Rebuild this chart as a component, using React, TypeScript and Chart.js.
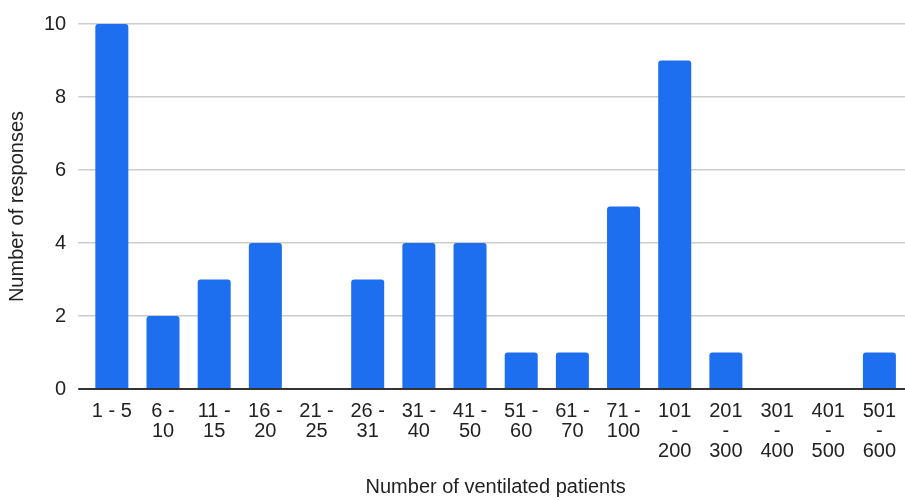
import React, { useEffect, useRef } from "react";
import { Chart, registerables } from "chart.js";

Chart.register(...registerables);

const categories: (string | string[])[] = [
  "1 - 5",
  ["6 -", "10"],
  ["11 -", "15"],
  ["16 -", "20"],
  ["21 -", "25"],
  ["26 -", "31"],
  ["31 -", "40"],
  ["41 -", "50"],
  ["51 -", "60"],
  ["61 -", "70"],
  ["71 -", "100"],
  ["101", "-", "200"],
  ["201", "-", "300"],
  ["301", "-", "400"],
  ["401", "-", "500"],
  ["501", "-", "600"],
];
const responses = [10, 2, 3, 4, 0, 3, 4, 4, 1, 1, 5, 9, 1, 0, 0, 1];
const xTitle = "Number of ventilated patients";
const yTitle = "Number of responses";

export default function App() {
  const ref = useRef<HTMLCanvasElement>(null);
  useEffect(() => {
    const font = { family: "'Liberation Sans', Arial, sans-serif", size: 20 };
    const chart = new Chart(ref.current!, {
      type: "bar",
      data: {
        labels: categories,
        datasets: [
          {
            data: responses,
            backgroundColor: "#1e6ef0",
            barPercentage: 0.645,
            categoryPercentage: 1,
            borderRadius: { topLeft: 3, topRight: 3, bottomLeft: 0, bottomRight: 0 },
            borderSkipped: "bottom",
          },
        ],
      },
      options: {
        animation: false,
        responsive: false,
        maintainAspectRatio: false,
        layout: { padding: { top: 11, right: 0, bottom: 1, left: 3 } },
        plugins: { legend: { display: false }, tooltip: { enabled: false } },
        scales: {
          x: {
            grid: { display: false },
            border: { display: false },
            ticks: {
              color: "#222",
              font: { ...font, lineHeight: 1.0 },
              padding: 4,
              maxRotation: 0,
              autoSkip: false,
            },
            title: {
              display: true,
              text: xTitle,
              color: "#222",
              font,
              padding: { top: 10, bottom: 0 },
            },
          },
          y: {
            min: 0,
            max: 10,
            ticks: { stepSize: 2, color: "#222", font, padding: 12 },
            border: { display: false },
            grid: {
              color: (c: any) => (c.tick && c.tick.value === 0 ? "#333" : "#cccccc"),
              lineWidth: (c: any) => (c.tick && c.tick.value === 0 ? 2 : 1.5),
              tickLength: 8,
            },
            title: {
              display: true,
              text: yTitle,
              color: "#222",
              font,
              padding: { top: 2, bottom: 3 },
            },
          },
        },
      },
    });
    return () => chart.destroy();
  }, []);
  return (
    <div style={{ position: "fixed", left: 0, top: 0, width: 905, height: 500, background: "#fff" }}>
      <canvas ref={ref} width={905} height={500} style={{ display: "block" }} />
    </div>
  );
}
